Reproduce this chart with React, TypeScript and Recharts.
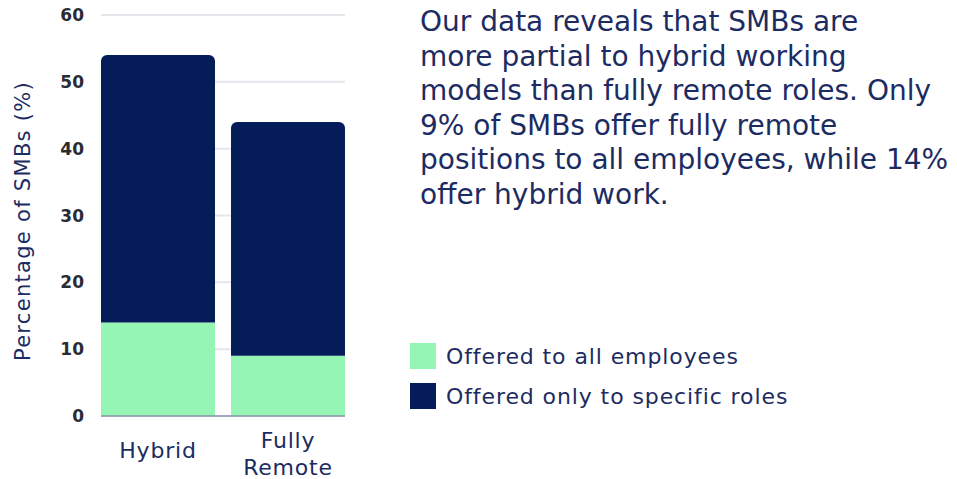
import { BarChart, Bar, XAxis, YAxis, CartesianGrid, Legend } from "recharts";

const categories = ["Hybrid", "Fully Remote"];
const allEmployees = [14, 9];
const specificRoles = [40, 35];
const yTicks = [0, 10, 20, 30, 40, 50, 60];

const NAVY = "#041c58";
const GREEN = "#95f5b4";
const TEXT = "#1c2c62";
const FONT = "'DejaVu Sans', sans-serif";

const data = categories.map((name, i) => ({
  name,
  all: allEmployees[i],
  specific: specificRoles[i],
}));

const seriesNames: Record<string, string> = {
  all: "Offered to all employees",
  specific: "Offered only to specific roles",
};

// category labels wrap onto two lines when they have a space
function CategoryTick(props: any) {
  const { x, y, payload } = props;
  const words = String(payload.value).split(" ");
  const offsets = words.length > 1 ? [32, 59] : [42];
  return (
    <text
      x={x}
      y={y}
      textAnchor="middle"
      fill={TEXT}
      fontSize={22}
      letterSpacing={0.8}
      fontFamily={FONT}
    >
      {words.map((w, i) => (
        <tspan key={w} x={x} y={y + offsets[i]}>
          {w}
        </tspan>
      ))}
    </text>
  );
}

function LegendBox(props: any) {
  const { payload } = props;
  return (
    <div style={{ fontFamily: FONT }}>
      {(payload || []).map((p: any) => (
        <div
          key={p.dataKey}
          style={{ display: "flex", alignItems: "center", height: 40 }}
        >
          <div style={{ width: 26, height: 26, background: p.color, marginRight: 10 }} />
          <span style={{ fontSize: 22, letterSpacing: 0.9, color: TEXT }}>{seriesNames[p.dataKey]}</span>
        </div>
      ))}
    </div>
  );
}

const yLabel = () => (
  <text
    x={23}
    y={221}
    transform="rotate(-90 23 221)"
    textAnchor="middle"
    dominantBaseline="central"
    fill={TEXT}
    fontSize={21}
    letterSpacing={1.3}
    fontFamily={FONT}
  >
    Percentage of SMBs (%)
  </text>
);

export default function App() {
  return (
    <div style={{ position: "absolute", left: 0, top: 0, width: 957, height: 479, background: "#fff" }}>
      <BarChart
        width={957}
        height={479}
        data={data}
        margin={{ top: 15, right: 612, bottom: 0, left: 0 }}
        barCategoryGap={8}
      >
        <CartesianGrid vertical={false} stroke="#e3e6ea" strokeWidth={2} />
        <XAxis
          dataKey="name"
          height={63}
          padding={{ left: -8, right: -8 }}
          tickLine={false}
          tickSize={0}
          tickMargin={0}
          axisLine={{ stroke: "#8a94a8", strokeWidth: 1.5 }}
          tick={<CategoryTick />}
          interval={0}
        />
        <YAxis
          width={101}
          domain={[0, 60]}
          ticks={yTicks}
          axisLine={false}
          tickLine={false}
          tickSize={0}
          tickMargin={17}
          tick={{ fill: "#2b2b33", fontSize: 17, fontWeight: 600, fontFamily: FONT }}
          label={yLabel}
        />
        <Legend
          layout="horizontal"
          verticalAlign="middle"
          align="center"
          content={<LegendBox />}
          wrapperStyle={{ left: 410, top: 336, width: 460 }}
        />
        <Bar dataKey="all" stackId="a" fill={GREEN} isAnimationActive={false} />
        <Bar dataKey="specific" stackId="a" fill={NAVY} radius={[6, 6, 0, 0]} isAnimationActive={false} />
      </BarChart>
      <div
        style={{
          position: "absolute",
          left: 420,
          top: 5,
          width: 537,
          fontFamily: FONT,
          fontSize: 28,
          lineHeight: "34.5px",
          color: TEXT,
          whiteSpace: "nowrap",
        }}
      >
        Our data reveals that SMBs are
        <br />
        more partial to hybrid working
        <br />
        models than fully remote roles. Only
        <br />
        9% of SMBs offer fully remote
        <br />
        positions to all employees, while 14%
        <br />
        offer hybrid work.
      </div>
    </div>
  );
}
